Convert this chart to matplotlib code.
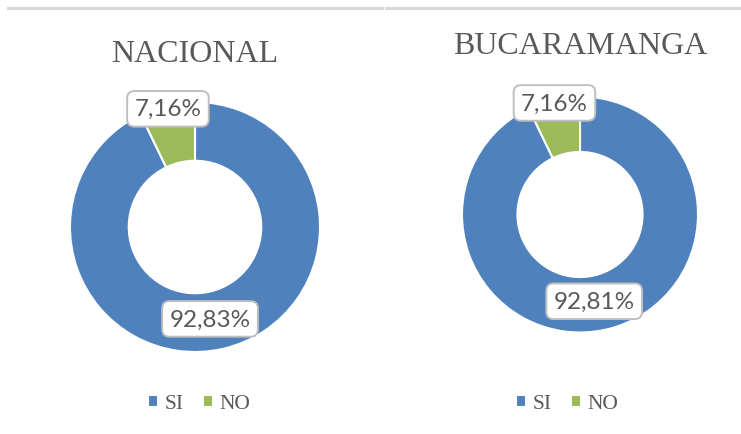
import numpy as np
import matplotlib
matplotlib.use("Agg")
import matplotlib.pyplot as plt
from matplotlib.lines import Line2D

# data
categories = ["SI", "NO"]
titles = ["NACIONAL", "BUCARAMANGA"]
nacional = [92.83, 7.16]
bucaramanga = [92.81, 7.16]
labels_nac = ["92,83%", "7,16%"]
labels_buc = ["92,81%", "7,16%"]

colors = ["#4F81BD", "#9BBB59"]
text_gray = "#595959"

W, H = 741, 435
fig = plt.figure(figsize=(W / 100, H / 100), dpi=100)
fig.patch.set_facecolor("white")

# gray top borders of the two chart areas
fig.add_artist(Line2D([8 / W, 382 / W], [1 - 9 / H] * 2, color="#d9d9d9", lw=2.2))
fig.add_artist(Line2D([386 / W, 741 / W], [1 - 9 / H] * 2, color="#d9d9d9", lw=2.2))


def donut(cx, cy, r, values, labels, title, title_y, legend_x):
    ax = fig.add_axes([(cx - r) / W, (H - cy - r) / H, 2 * r / W, 2 * r / H])
    wedges, _ = ax.pie(values, colors=colors, startangle=90, counterclock=False,
                       radius=1, wedgeprops=dict(width=0.47, edgecolor="white", linewidth=1.5))
    ax.set_xlim(-1, 1)
    ax.set_ylim(-1, 1)
    ax.set_axis_off()

    # data labels placed along each wedge's mid angle
    label_r = [0.745, 0.97]
    nudge = [-3.6, 0.0]
    for w, lab, lr, nd in zip(wedges, labels, label_r, nudge):
        ang = np.deg2rad((w.theta1 + w.theta2) / 2 + nd)
        ax.text(lr * np.cos(ang), lr * np.sin(ang), lab, ha="center", va="center",
                fontsize=17.5, color=text_gray, family="Lato", zorder=5,
                bbox=dict(boxstyle="round,pad=0.3,rounding_size=0.3", fc="white",
                          ec="#bfbfbf", lw=1.4))

    fig.text(cx / W, 1 - title_y / H, title, ha="center", va="center",
             fontsize=23, color=text_gray, family="Liberation Serif")

    fig.legend(wedges, categories, loc="center", bbox_to_anchor=(legend_x / W, 1 - 405 / H),
               ncol=2, frameon=False, handlelength=0.45, handleheight=0.45,
               handletextpad=0.3, columnspacing=0.9, labelcolor=text_gray,
               prop=dict(family="Liberation Serif", size=15.5))


donut(195, 228, 125, nacional, labels_nac, titles[0], 55, 199)
donut(580, 215.5, 118, bucaramanga, labels_buc, titles[1], 46.5, 567)

fig.savefig("out.png", dpi=100, facecolor="white")
